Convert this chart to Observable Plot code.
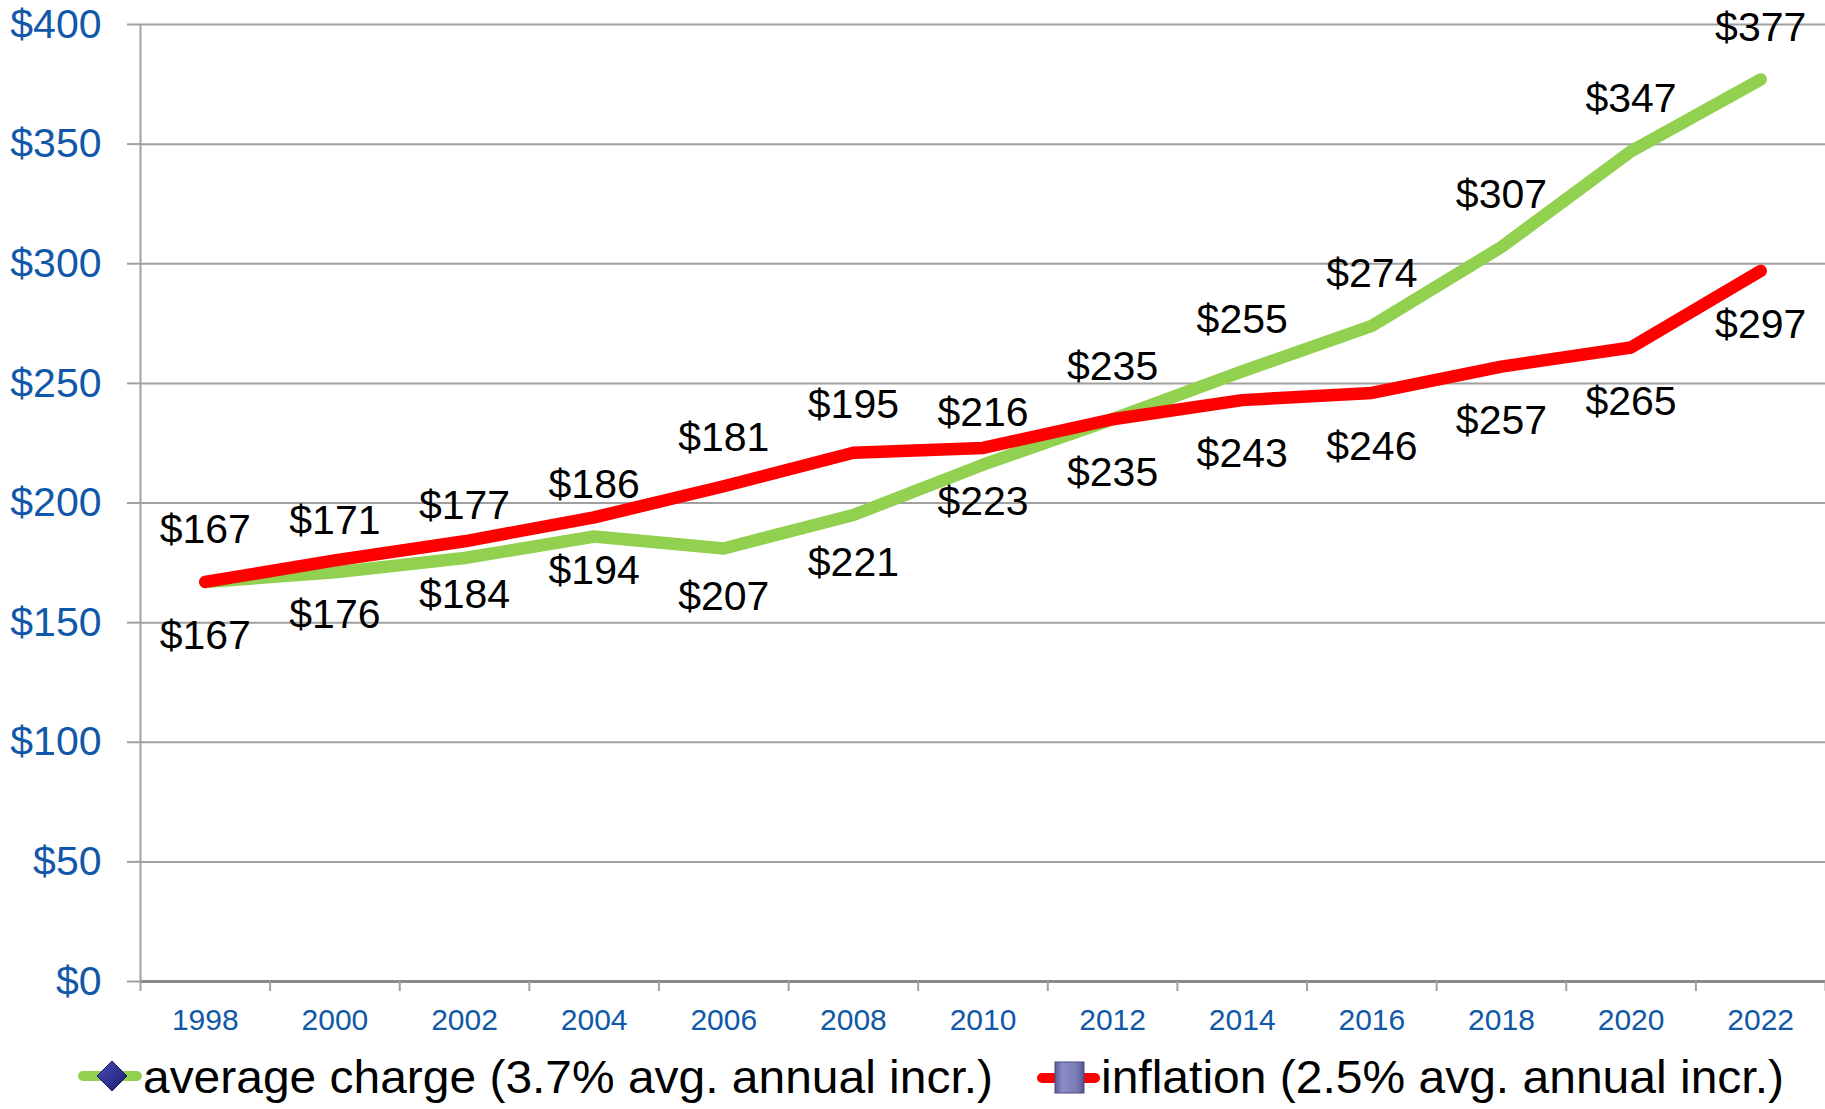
<!DOCTYPE html>
<html>
<head>
<meta charset="utf-8">
<script src="https://cdn.jsdelivr.net/npm/d3@7"></script>
<script src="https://cdn.jsdelivr.net/npm/@observablehq/plot@0.6"></script>
<style>
  html, body { margin: 0; padding: 0; background: #fff; }
  #wrap { position: relative; width: 1825px; height: 1109px; overflow: hidden; font-family: "Liberation Sans", Arial, sans-serif; }
  #legend { position: absolute; left: 0; top: 0; }
</style>
</head>
<body>
<div id="wrap">
  <div id="chart"></div>
  <svg id="legend" width="1825" height="1109"></svg>
</div>
<script>
// ---- data ----
const years = [1998, 2000, 2002, 2004, 2006, 2008, 2010, 2012, 2014, 2016, 2018, 2020, 2022];
const averageCharge = [167, 171, 177, 186, 181, 195, 216, 235, 255, 274, 307, 347, 377];
const inflation = [167, 176, 184, 194, 207, 221, 223, 235, 243, 246, 257, 265, 297];
const yTicks = [0, 50, 100, 150, 200, 250, 300, 350, 400];
const yearBoundaries = [1997, 1999, 2001, 2003, 2005, 2007, 2009, 2011, 2013, 2015, 2017, 2019, 2021, 2023];
const seriesNames = ["average charge (3.7% avg. annual incr.)", "inflation (2.5% avg. annual incr.)"];

const rows = years.map((year, i) => {
  const g = averageCharge[i], r = inflation[i];
  const swapped = r - g > 10;
  return {
    year, g, r, swapped,
    // label anchors: keep each label next to its own line unless the other line is in the way
    gAnchor: swapped ? r : g,
    rAnchor: swapped ? g : r
  };
});

const blue = "#1158a8";
const grid = "#a0a0a0";
const font = "'Liberation Sans', Arial, sans-serif";

const chart = Plot.plot({
  width: 1825,
  height: 1045,
  marginTop: 24,
  marginBottom: 64,
  marginLeft: 140,
  marginRight: 0,
  style: { fontFamily: font, background: "white", overflow: "visible" },
  x: { domain: [1997, 2023], label: null },
  y: { domain: [0, 400], label: null },
  marks: [
    Plot.ruleY(yTicks, { stroke: grid, strokeWidth: 2 }),
    Plot.ruleY([0], { stroke: "#8a8a8a", strokeWidth: 3 }),
    Plot.ruleX([1997], { y1: 0, y2: 400, stroke: grid, strokeWidth: 2 }),
    Plot.axisY({ ticks: yTicks, tickSize: 13, tickFormat: () => "", stroke: grid, strokeWidth: 2, label: null }),
    Plot.axisY({ ticks: yTicks, tickSize: 0, tickPadding: 39, tickFormat: d => "$" + d, fill: blue, fontSize: 41, label: null }),
    Plot.axisX({ ticks: yearBoundaries, tickSize: 10, tickFormat: () => "", stroke: grid, strokeWidth: 2, label: null }),
    Plot.axisX({ ticks: years, tickSize: 0, tickPadding: 27, tickFormat: d => String(d), fill: blue, fontSize: 30, label: null }),
    Plot.line(rows, { x: "year", y: "g", stroke: "#92d050", strokeWidth: 12.5, strokeLinecap: "round", strokeLinejoin: "round" }),
    Plot.line(rows, { x: "year", y: "r", stroke: "#ff0000", strokeWidth: 12.5, strokeLinecap: "round", strokeLinejoin: "round" }),
    Plot.text(rows.filter(d => !d.swapped), { x: "year", y: "gAnchor", text: d => "$" + d.g, dy: -52, fontSize: 41, fill: "black" }),
    Plot.text(rows.filter(d => d.swapped), { x: "year", y: "gAnchor", text: d => "$" + d.g, dy: -48, fontSize: 41, fill: "black" }),
    Plot.text(rows.filter(d => !d.swapped), { x: "year", y: "rAnchor", text: d => "$" + d.r, dy: 54, fontSize: 41, fill: "black" }),
    Plot.text(rows.filter(d => d.swapped), { x: "year", y: "rAnchor", text: d => "$" + d.r, dy: 48, fontSize: 41, fill: "black" })
  ]
});
document.getElementById("chart").appendChild(chart);

// ---- legend ----
const lg = d3.select("#legend");
const defs = lg.append("defs");
const gd = defs.append("linearGradient").attr("id", "gd").attr("x1", 0).attr("y1", 0).attr("x2", 1).attr("y2", 1);
gd.append("stop").attr("offset", 0).attr("stop-color", "#4a4ab8");
gd.append("stop").attr("offset", 1).attr("stop-color", "#1c1c70");
const gs = defs.append("linearGradient").attr("id", "gs").attr("x1", 0).attr("y1", 0).attr("x2", 1).attr("y2", 0);
gs.append("stop").attr("offset", 0).attr("stop-color", "#5a5a96");
gs.append("stop").attr("offset", 0.25).attr("stop-color", "#8c8cc8");
gs.append("stop").attr("offset", 0.75).attr("stop-color", "#7c7cb8");
gs.append("stop").attr("offset", 1).attr("stop-color", "#55558c");

// item 1
lg.append("line").attr("x1", 83).attr("x2", 137).attr("y1", 1076).attr("y2", 1076)
  .attr("stroke", "#92d050").attr("stroke-width", 10).attr("stroke-linecap", "round");
lg.append("path").attr("d", "M112,1061 L127,1076 L112,1091 L97,1076 Z").attr("fill", "url(#gd)").attr("stroke", "#1a1a5e").attr("stroke-width", 1);
lg.append("text").attr("x", 143).attr("y", 1093).attr("font-size", 47).attr("font-family", font).attr("fill", "black")
  .attr("textLength", 850).attr("lengthAdjust", "spacingAndGlyphs").text(seriesNames[0]);

// item 2
lg.append("line").attr("x1", 1042).attr("x2", 1095).attr("y1", 1078).attr("y2", 1078)
  .attr("stroke", "#ff0000").attr("stroke-width", 10).attr("stroke-linecap", "round");
lg.append("rect").attr("x", 1055).attr("y", 1062).attr("width", 29).attr("height", 31).attr("fill", "url(#gs)").attr("stroke", "#4a4a80").attr("stroke-width", 1);
lg.append("text").attr("x", 1101).attr("y", 1093).attr("font-size", 47).attr("font-family", font).attr("fill", "black")
  .attr("textLength", 683).attr("lengthAdjust", "spacingAndGlyphs").text(seriesNames[1]);
</script>
</body>
</html>
